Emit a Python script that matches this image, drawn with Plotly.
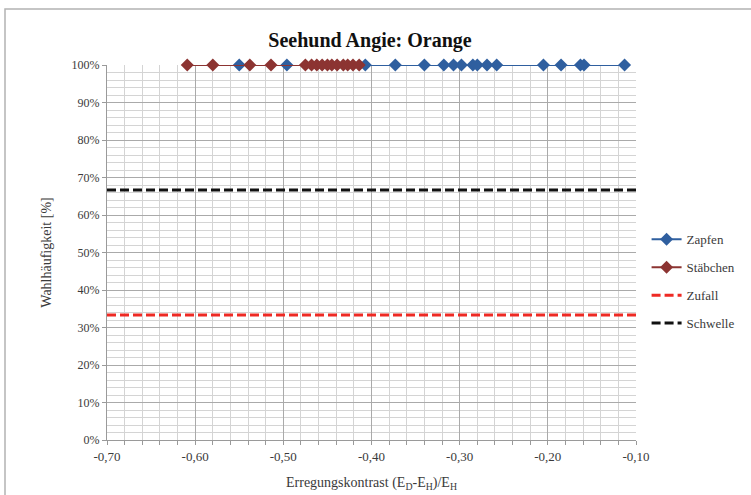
import plotly.graph_objects as go

# Erregungskontrast values per trial, choice frequency in percent
zapfen_x = [-0.550, -0.496, -0.407, -0.373, -0.340, -0.318, -0.307, -0.298,
            -0.285, -0.280, -0.269, -0.258, -0.205, -0.185, -0.163, -0.159, -0.113]
zapfen_y = [100] * len(zapfen_x)

staebchen_x = [-0.609, -0.580, -0.538, -0.514, -0.475, -0.468, -0.462, -0.456,
               -0.450, -0.445, -0.439, -0.432, -0.427, -0.421, -0.414]
staebchen_y = [100] * len(staebchen_x)

ref_x = [-0.70, -0.10]
zufall_y = [33.33, 33.33]
schwelle_y = [66.67, 66.67]

x_tick_vals = [-0.70, -0.60, -0.50, -0.40, -0.30, -0.20, -0.10]
x_tick_labels = ["-0,70", "-0,60", "-0,50", "-0,40", "-0,30", "-0,20", "-0,10"]
y_tick_vals = [0, 10, 20, 30, 40, 50, 60, 70, 80, 90, 100]
y_tick_labels = ["0%", "10%", "20%", "30%", "40%", "50%", "60%", "70%", "80%", "90%", "100%"]

FONT = "Liberation Serif, Times New Roman, serif"
BLUE = "#2f5f9f"
BROWN = "#8c3432"
TXT = "#3a3a3a"

fig = go.Figure()
fig.add_trace(go.Scatter(
    x=zapfen_x, y=zapfen_y, name="Zapfen", mode="lines+markers",
    line=dict(color=BLUE, width=2),
    marker=dict(symbol="diamond", size=10, color=BLUE),
    legendgroup="a", cliponaxis=False))
fig.add_trace(go.Scatter(
    x=staebchen_x, y=staebchen_y, name="Stäbchen", mode="lines+markers",
    line=dict(color=BROWN, width=2),
    marker=dict(symbol="diamond", size=10, color=BROWN),
    legendgroup="b", cliponaxis=False))
fig.add_trace(go.Scatter(
    x=ref_x, y=zufall_y, name="Zufall", mode="lines",
    line=dict(color="#ee2a24", width=3, dash="9px,4px"),
    legendgroup="c"))
fig.add_trace(go.Scatter(
    x=ref_x, y=schwelle_y, name="Schwelle", mode="lines",
    line=dict(color="#111111", width=3, dash="9px,4px"),
    legendgroup="d"))

fig.update_layout(
    width=751, height=495,
    margin=dict(l=107, r=115, t=65, b=55, autoexpand=False),
    paper_bgcolor="white", plot_bgcolor="white",
    font=dict(family=FONT, size=12, color=TXT),
    title=dict(text="<b>Seehund Angie: Orange</b>", x=370 / 751, xanchor="center",
               y=1 - 40 / 495, yanchor="middle",
               font=dict(family=FONT, size=20, color="#111111")),
    showlegend=True,
    legend=dict(x=1.02, xanchor="left", y=0.575, yanchor="top",
                font=dict(family=FONT, size=13, color=TXT),
                traceorder="grouped", tracegroupgap=8,
                itemwidth=30, bgcolor="rgba(0,0,0,0)"),
    shapes=[dict(type="rect", xref="paper", yref="paper",
                 x0=-102 / 529, x1=1.3, y0=-0.3, y1=1 + 56 / 375,
                 line=dict(color="#b3b3b3", width=1.5), layer="below")],
)

fig.update_xaxes(
    range=[-0.70, -0.10], tickvals=x_tick_vals, ticktext=x_tick_labels,
    showgrid=True, gridcolor="#aaaaaa", gridwidth=1,
    minor=dict(dtick=0.02, tick0=-0.70, showgrid=True, gridcolor="#d4d4d4",
               ticks="outside", ticklen=4, tickcolor="#9a9a9a"),
    ticks="outside", ticklen=4, tickcolor="#9a9a9a",
    showline=True, linecolor="#9a9a9a", linewidth=1,
    zeroline=False, tickfont=dict(family=FONT, size=13, color=TXT),
    automargin=False,
    title=dict(text="Erregungskontrast (E<sub>D</sub>-E<sub>H</sub>)/E<sub>H</sub>",
               standoff=14, font=dict(family=FONT, size=14, color=TXT)),
)
fig.update_yaxes(
    range=[0, 100], tickvals=y_tick_vals, ticktext=y_tick_labels,
    showgrid=True, gridcolor="#aaaaaa", gridwidth=1,
    minor=dict(dtick=2, tick0=0, showgrid=True, gridcolor="#d4d4d4"),
    ticks="outside", ticklen=4, tickcolor="#9a9a9a",
    showline=True, linecolor="#9a9a9a", linewidth=1,
    zeroline=False, tickfont=dict(family=FONT, size=12, color=TXT),
    automargin=False,
    title=dict(text="Wahlhäufigkeit [%]", standoff=16,
               font=dict(family=FONT, size=14, color=TXT)),
)

fig.write_html("out.html")
